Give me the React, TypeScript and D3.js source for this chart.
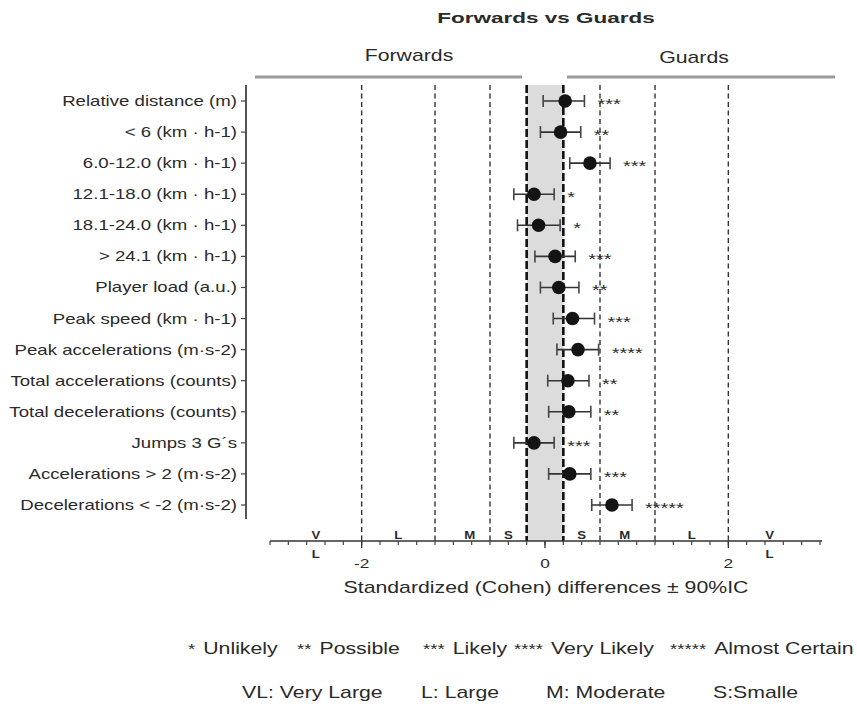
import React from 'react';
import * as d3 from 'd3';

const categories = [
  "Relative distance (m)",
  "< 6 (km · h-1)",
  "6.0-12.0 (km · h-1)",
  "12.1-18.0 (km · h-1)",
  "18.1-24.0 (km · h-1)",
  "> 24.1 (km · h-1)",
  "Player load (a.u.)",
  "Peak speed (km · h-1)",
  "Peak accelerations (m·s-2)",
  "Total accelerations (counts)",
  "Total decelerations (counts)",
  "Jumps 3 G´s",
  "Accelerations > 2 (m·s-2)",
  "Decelerations < -2 (m·s-2)",
];
const effect = [0.22, 0.17, 0.49, -0.12, -0.07, 0.11, 0.15, 0.30, 0.36, 0.25, 0.26, -0.12, 0.27, 0.73];
const lower = [-0.02, -0.05, 0.27, -0.34, -0.30, -0.11, -0.05, 0.09, 0.13, 0.03, 0.04, -0.34, 0.04, 0.51];
const upper = [0.43, 0.39, 0.71, 0.10, 0.165, 0.33, 0.37, 0.54, 0.585, 0.48, 0.50, 0.10, 0.50, 0.95];
const stars = ["***", "**", "***", "*", "*", "***", "**", "***", "****", "**", "**", "***", "***", "*****"];

const thresholdsThin = [-2, -1.2, -0.6, 0.6, 1.2, 2];
const thresholdsThick = [-0.2, 0.2];
const zoneLabels = ["VL", "L", "M", "S", "S", "M", "L", "VL"];
const zonePositions = [-2.5, -1.6, -0.82, -0.4, 0.4, 0.87, 1.6, 2.45];
const xTickValues = [-2, 0, 2];

const groupLabels = ["Forwards", "Guards"];
const title = "Forwards vs Guards";
const xTitle = "Standardized (Cohen) differences ± 90%IC";
const legendStars = ["*", "**", "***", "****", "*****"];
const legendLikelihood = ["Unlikely", "Possible", "Likely", "Very Likely", "Almost Certain"];
const legendMagnitude = ["VL: Very Large", "L: Large", "M: Moderate", "S:Smalle"];

const FONT = '"Liberation Sans", Arial, Helvetica, sans-serif';
const SX = 1.33;
const INK = '#2a2a2a';

export default function App() {
  const W = 857, H = 709;
  const x = d3.scaleLinear().domain([-3, 3]).range([270, 820]);
  const y = d3.scalePoint<string>().domain(categories).range([101, 505]);
  const plotTop = 85;
  const axisY = 541;
  const yAxisX = 246;
  const minorTicks = d3.range(-15, 16).map((i) => i * 0.2);

  const T = (props: any) => {
    const { x: tx, y: ty, sx = SX, children, ...rest } = props;
    return (
      <text transform={`translate(${tx},${ty}) scale(${sx},1)`} fontFamily={FONT} fill={INK} {...rest}>
        {children}
      </text>
    );
  };

  const legend1X = [188, 297, 423, 514, 670];
  const legend2X = [242, 421, 546, 713];

  return (
    <svg width={W} height={H} style={{ position: 'absolute', left: 0, top: 0, background: '#fff' }}>
      {/* title */}
      <T x={546} y={23} fontSize={15} fontWeight="bold" textAnchor="middle" sx={1.5}>{title}</T>
      {/* group labels and bars */}
      <T x={409} y={61} fontSize={16} textAnchor="middle">{groupLabels[0]}</T>
      <T x={694} y={63} fontSize={16} textAnchor="middle">{groupLabels[1]}</T>
      <line x1={255} x2={522} y1={77} y2={77} stroke="#9a9a9a" strokeWidth={3} />
      <line x1={567} x2={835} y1={77} y2={77} stroke="#9a9a9a" strokeWidth={3} />

      {/* trivial zone */}
      <rect x={x(-0.2)} y={plotTop} width={x(0.2) - x(-0.2)} height={axisY - plotTop} fill="#dcdcdc" />

      {/* threshold lines */}
      {thresholdsThin.map((t) => (
        <line key={'t' + t} x1={x(t)} x2={x(t)} y1={plotTop} y2={axisY} stroke="#333" strokeWidth={1.4} strokeDasharray="5,3.5" />
      ))}
      {thresholdsThick.map((t) => (
        <line key={'k' + t} x1={x(t)} x2={x(t)} y1={plotTop} y2={axisY} stroke="#111" strokeWidth={2.6} strokeDasharray="8,3" />
      ))}

      {/* y axis */}
      <line x1={yAxisX} x2={yAxisX} y1={plotTop} y2={519} stroke="#555" strokeWidth={2} />
      {categories.map((c) => (
        <g key={c}>
          <line x1={yAxisX - 5} x2={yAxisX} y1={y(c)} y2={y(c)} stroke="#444" strokeWidth={1.2} />
          <T x={yAxisX - 9} y={(y(c) as number) + 5} fontSize={14} textAnchor="end">{c}</T>
        </g>
      ))}

      {/* x axis */}
      <line x1={270} x2={822} y1={axisY} y2={axisY} stroke="#333" strokeWidth={1.6} />
      {minorTicks.map((t) => (
        <line key={'m' + t} x1={x(t)} x2={x(t)} y1={axisY} y2={axisY + 4} stroke="#444" strokeWidth={1.2} />
      ))}
      {xTickValues.map((t) => (
        <g key={'x' + t}>
          <line x1={x(t)} x2={x(t)} y1={axisY} y2={axisY + 7} stroke="#333" strokeWidth={1.3} />
          <T x={x(t)} y={568} fontSize={13} textAnchor="middle">{t}</T>
        </g>
      ))}
      {zoneLabels.map((z, i) => (
        z === 'VL' ? (
          <g key={'z' + i}>
            <T x={x(zonePositions[i])} y={539} fontSize={11} fontWeight="bold" textAnchor="middle" sx={1.2}>V</T>
            <T x={x(zonePositions[i])} y={558} fontSize={11} fontWeight="bold" textAnchor="middle" sx={1.2}>L</T>
          </g>
        ) : (
          <T key={'z' + i} x={x(zonePositions[i])} y={539} fontSize={11} fontWeight="bold" textAnchor="middle" sx={1.2}>{z}</T>
        )
      ))}
      <T x={546} y={593} fontSize={16} textAnchor="middle">{xTitle}</T>

      {/* error bars and points */}
      {categories.map((c, i) => {
        const cy = y(c) as number;
        return (
          <g key={'d' + i}>
            <line x1={x(lower[i])} x2={x(upper[i])} y1={cy} y2={cy} stroke="#333" strokeWidth={1.6} />
            <line x1={x(lower[i])} x2={x(lower[i])} y1={cy - 6} y2={cy + 6} stroke="#444" strokeWidth={1.6} />
            <line x1={x(upper[i])} x2={x(upper[i])} y1={cy - 6} y2={cy + 6} stroke="#444" strokeWidth={1.6} />
            <circle cx={x(effect[i])} cy={cy} r={6.8} fill="#141414" />
            <T x={x(upper[i]) + 13} y={cy + 8} fontSize={15} textAnchor="start">{stars[i]}</T>
          </g>
        );
      })}

      {/* legends */}
      {legendLikelihood.map((s, i) => (
        <T key={'l1' + i} x={legend1X[i]} y={654} fontSize={16} textAnchor="start">
          <tspan fontSize={14}>{legendStars[i]}</tspan>
          <tspan dx={6}>{s}</tspan>
        </T>
      ))}
      {legendMagnitude.map((s, i) => (
        <T key={'l2' + i} x={legend2X[i]} y={698} fontSize={16} textAnchor="start">{s}</T>
      ))}
    </svg>
  );
}
